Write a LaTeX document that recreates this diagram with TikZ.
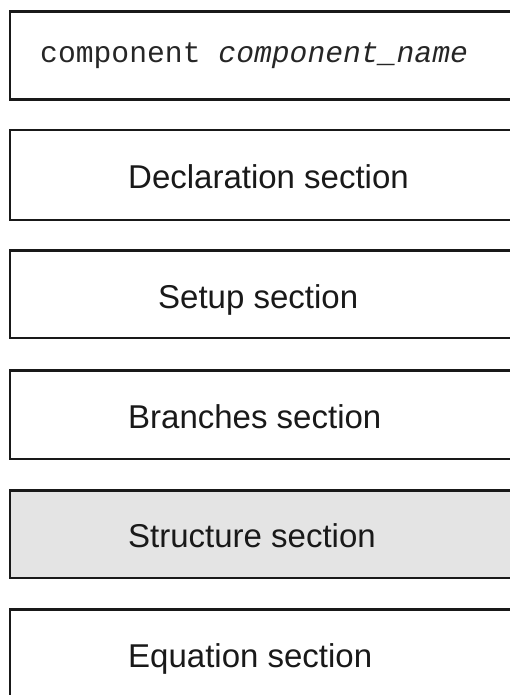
\documentclass[tikz,border=0pt]{standalone}
\usepackage{fontspec}
\setmainfont{Liberation Sans}
\newfontfamily\courierfont{Liberation Mono}
\begin{document}
\begin{tikzpicture}[x=1pt,y=1pt,
  secbox/.style={draw=black!90, line width=2.5pt, anchor=north west, minimum width=520pt, minimum height=88pt, inner sep=0pt},
  sectext/.style={anchor=base west, inner sep=0pt, font=\fontsize{33}{36}\selectfont, text=black!90},
  codetext/.style={anchor=base west, inner sep=0pt, font=\courierfont\fontsize{29.7}{32}\selectfont, text=black!85}]
\useasboundingbox (0,0) rectangle (510,-695);
\clip (0,0) rectangle (510,-695);
\node[secbox] (b1) at (8.5,-10.5) {};
\node[secbox, minimum height=89.5pt] (b2) at (8.5,-129) {};
\node[secbox, minimum height=87.5pt] (b3) at (8.5,-249) {};
\node[secbox, minimum height=88.5pt] (b4) at (8.5,-369) {};
\node[secbox, minimum height=87.5pt, fill=black!10.5] (b5) at (8.5,-489) {};
\node[secbox, minimum height=89pt] (b6) at (8.5,-608) {};
\node[codetext] (t1) at (40,-63) {component \textit{component\_name}};
\node[sectext] (t2) at (128,-188) {Declaration section};
\node[sectext] (t3) at (158,-308) {Setup section};
\node[sectext] (t4) at (128,-428) {Branches section};
\node[sectext] (t5) at (128,-547) {Structure section};
\node[sectext] (t6) at (128,-667) {Equation section};
\end{tikzpicture}
\end{document}
